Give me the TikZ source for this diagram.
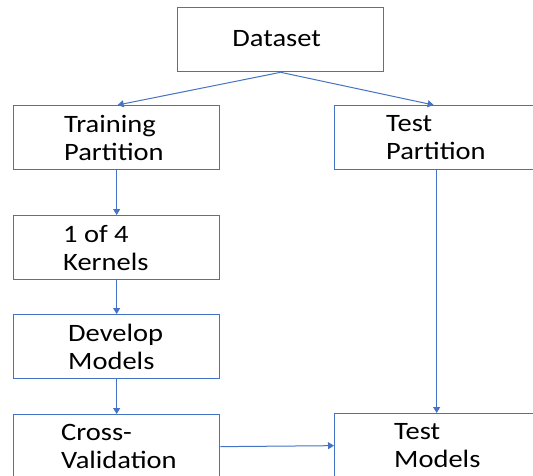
\documentclass[tikz,border=0pt]{standalone}
\usepackage{fontspec}
\setmainfont[FakeStretch=1.14]{Carlito}
\usetikzlibrary{arrows.meta}
\definecolor{flowblue}{HTML}{4472C4}
\begin{document}
\begin{tikzpicture}[x=1pt,y=-1pt,
  box/.style={draw=flowblue, line width=1.3pt, minimum width=206pt,
    minimum height=64pt, anchor=north west, inner sep=0pt},
  boxtext/.style={anchor=west, align=left, inner sep=0pt,
    font=\fontsize{25}{28}\selectfont},
  flow/.style={draw=flowblue, line width=1pt,
    -{Triangle[width=7pt,length=6pt]}}]
\clip (0,0) rectangle (533,475);

% boxes
\node[box] (ds)     at (177,7)   {};
\node[box] (train)  at (13,105)  {};
\node[box] (testp)  at (334,105) {};
\node[box] (kern)   at (13,215)  {};
\node[box] (dev)    at (13,314)  {};
\node[box] (cross)  at (13,414)  {};
\node[box] (testm)  at (334,413) {};

% box texts
\node[boxtext, anchor=center, xshift=-4pt, yshift=1pt] (dsT) at (ds.center) {Dataset};
\node[boxtext, xshift=51pt] (trainT) at (train.west) {Training\\Partition};
\node[boxtext, xshift=52pt] (testpT) at (testp.west) {Test\\Partition};
\node[boxtext, xshift=50pt] (kernT)  at (kern.west)  {1 of 4\\Kernels};
\node[boxtext, xshift=55pt] (devT)   at (dev.west)   {Develop\\Models};
\node[boxtext, xshift=48pt] (crossT) at (cross.west) {Cross-\\Validation};
\node[boxtext, xshift=60pt] (testmT) at (testm.west) {Test\\Models};

% connectors
\draw[flow] (ds.south) -- ([xshift=1pt]train.north);
\draw[flow] (ds.south) -- ([xshift=-4pt]testp.north);
\draw[flow] (train.south) -- (kern.north);
\draw[flow] (kern.south) -- (dev.north);
\draw[flow] (dev.south) -- (cross.north);
\draw[flow] ([xshift=-1pt]testp.south) -- ([xshift=-1pt]testm.north);
\draw[flow] (cross.east) -- (testm.west);
\end{tikzpicture}
\end{document}
